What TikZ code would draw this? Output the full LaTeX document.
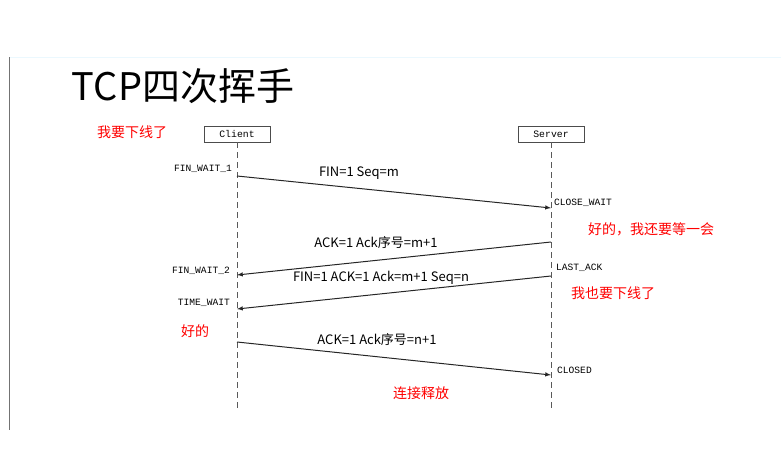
\documentclass[tikz,border=0pt]{standalone}
\usepackage{fontspec}
\setmainfont{Noto Sans CJK SC}
\setmonofont{Liberation Mono}
\usetikzlibrary{arrows}
\tikzstyle{entity} = [rectangle, draw=black!70, line width=0.8pt, minimum width=66pt, minimum height=16pt, inner sep=0pt, font=\ttfamily\fontsize{9.8}{10}\selectfont]
\tikzstyle{lifeline} = [draw=black!65, line width=0.8pt, dash pattern=on 6pt off 4pt]
\tikzstyle{msg} = [draw=black!85, line width=1pt, ->, >=latex]
\tikzstyle{statetext} = [inner sep=0pt, font=\ttfamily\fontsize{9.6}{10}\selectfont]
\tikzstyle{msglabel} = [inner sep=0pt, font=\fontsize{13}{15}\selectfont]
\tikzstyle{note} = [inner sep=0pt, text=red, font=\fontsize{14}{16}\selectfont]

\begin{document}
\begin{tikzpicture}[x=1pt,y=-1pt]
    \useasboundingbox (0,0) rectangle (781,471);
    \draw[cyan!8, line width=1pt] (10,57) -- (781,57);
    \draw[black!55, line width=1pt] (9.5,57) -- (9.5,430);

    \node (title) [inner sep=0pt, font=\fontsize{38}{44}\selectfont] at (183,86) {TCP四次挥手};

    \node (client) [entity] at (237,134) {Client};
    \node (server) [entity] at (551,134) {Server};
    \coordinate (clientend) at (237,408);
    \coordinate (serverend) at (551,408);
    \draw[lifeline] (client.south) -- (clientend);
    \draw[lifeline] (server.south) -- (serverend);

    \coordinate (m1s) at (237,176);
    \coordinate (m1e) at (551,208);
    \coordinate (m2s) at (551,242);
    \coordinate (m2e) at (237,275);
    \coordinate (m3s) at (551,276);
    \coordinate (m3e) at (237,309);
    \coordinate (m4s) at (237,342);
    \coordinate (m4e) at (551,375);

    \draw[msg] (m1s) -- (m1e);
    \draw[msg] (m2s) -- (m2e);
    \draw[msg] (m3s) -- (m3e);
    \draw[msg] (m4s) -- (m4e);

    \node (lab1) [msglabel] at (359,173) {FIN=1 Seq=m};
    \node (lab2) [msglabel] at (376,243) {ACK=1 Ack序号=m+1};
    \node (lab3) [msglabel] at (381,278) {FIN=1 ACK=1 Ack=m+1 Seq=n};
    \node (lab4) [msglabel] at (377,340) {ACK=1 Ack序号=n+1};

    \node (finwait1) [statetext, anchor=east] at (232,169) {FIN\_WAIT\_1};
    \node (finwait2) [statetext, anchor=east] at (230,271) {FIN\_WAIT\_2};
    \node (timewait) [statetext, anchor=east] at (230,303) {TIME\_WAIT};
    \node (closewait) [statetext, anchor=west] at (554,203) {CLOSE\_WAIT};
    \node (lastack) [statetext, anchor=west] at (556,268) {LAST\_ACK};
    \node (closed) [statetext, anchor=west] at (557,370) {CLOSED};

    \node (n1) [note] at (132,132) {我要下线了};
    \node (n2) [note] at (651,229) {好的，我还要等一会};
    \node (n3) [note] at (613,293) {我也要下线了};
    \node (n4) [note] at (195,331) {好的};
    \node (n5) [note] at (421,393) {连接释放};
\end{tikzpicture}
\end{document}
